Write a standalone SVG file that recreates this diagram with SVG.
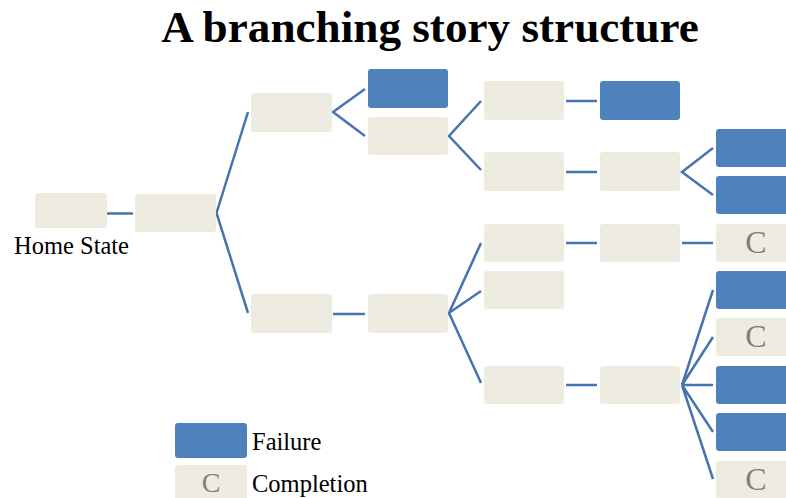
<svg xmlns="http://www.w3.org/2000/svg" width="786" height="498" viewBox="0 0 786 498">
  <style>
    .n { fill: #eeece1; }
    .f { fill: #4f81bd; }
    .c { font-family: "Liberation Serif", serif; font-size: 32px; fill: #7f7f7f; text-anchor: middle; }
    .lbl { font-family: "Liberation Serif", serif; font-size: 24.5px; fill: #000; }
    .title { font-family: "Liberation Serif", serif; font-size: 45.2px; font-weight: bold; fill: #000; text-anchor: middle; }
    #connectors path { fill: none; stroke: #4674b0; stroke-width: 2.5; stroke-linejoin: miter; }
  </style>

  <text class="title" x="430" y="42">A branching story structure</text>

  <g id="connectors">
    <path d="M103 213.5 H133"/>
    <path d="M248 112 L216.5 213 L248 313"/>
    <path d="M365 89 L333 112 L365 136"/>
    <path d="M333 314 H365"/>
    <path d="M481 101 L449 136 L481 170"/>
    <path d="M566 101 H597"/>
    <path d="M566 172 H597"/>
    <path d="M713 148 L682 172 L713 195"/>
    <path d="M481 243 L449 313 L481 291 M449 313 L481 383"/>
    <path d="M566 243 H597"/>
    <path d="M682 243 H713"/>
    <path d="M566 385 H597"/>
    <path d="M713 290 L682 385 L713 337 M682 385 H713 M682 385 L713 432 M682 385 L713 479"/>
  </g>

  <g id="home"><rect class="n" x="35" y="193" width="72" height="35" rx="3"/><text class="lbl" x="14" y="254">Home State</text></g>
  <g id="s1"><rect class="n" x="135" y="194" width="81" height="38" rx="3"/></g>
  <g id="s2a"><rect class="n" x="251" y="93" width="81" height="39" rx="3"/></g>
  <g id="s2b"><rect class="n" x="251" y="294" width="81" height="39" rx="3"/></g>
  <g id="s3a"><rect class="f" x="368" y="69" width="80" height="39" rx="3"/></g>
  <g id="s3b"><rect class="n" x="368" y="117" width="80" height="38" rx="3"/></g>
  <g id="s3c"><rect class="n" x="368" y="294" width="80" height="39" rx="3"/></g>
  <g id="s4a"><rect class="n" x="484" y="81" width="80" height="39" rx="3"/></g>
  <g id="s4b"><rect class="n" x="484" y="152" width="80" height="39" rx="3"/></g>
  <g id="s4c"><rect class="n" x="484" y="224" width="80" height="38" rx="3"/></g>
  <g id="s4d"><rect class="n" x="484" y="271" width="80" height="38" rx="3"/></g>
  <g id="s4e"><rect class="n" x="484" y="366" width="80" height="38" rx="3"/></g>
  <g id="s5a"><rect class="f" x="600" y="81" width="80" height="39" rx="3"/></g>
  <g id="s5b"><rect class="n" x="600" y="152" width="80" height="39" rx="3"/></g>
  <g id="s5c"><rect class="n" x="600" y="224" width="80" height="38" rx="3"/></g>
  <g id="s5e"><rect class="n" x="600" y="366" width="80" height="38" rx="3"/></g>
  <g id="e1"><rect class="f" x="716" y="129" width="80" height="38" rx="3"/></g>
  <g id="e2"><rect class="f" x="716" y="176" width="80" height="38" rx="3"/></g>
  <g id="e3"><rect class="n" x="716" y="224" width="80" height="38" rx="3"/><text class="c" x="756" y="253">C</text></g>
  <g id="e4"><rect class="f" x="716" y="271" width="80" height="38" rx="3"/></g>
  <g id="e5"><rect class="n" x="716" y="318" width="80" height="38" rx="3"/><text class="c" x="756" y="347">C</text></g>
  <g id="e6"><rect class="f" x="716" y="366" width="80" height="38" rx="3"/></g>
  <g id="e7"><rect class="f" x="716" y="413" width="80" height="38" rx="3"/></g>
  <g id="e8"><rect class="n" x="716" y="461" width="80" height="38" rx="3"/><text class="c" x="756" y="490">C</text></g>

  <g id="legend-failure"><rect class="f" x="175" y="423" width="72" height="35" rx="3"/><text class="lbl" x="252" y="450">Failure</text></g>
  <g id="legend-completion"><rect class="n" x="175" y="465" width="72" height="35" rx="3"/><text class="c" x="211" y="492" style="font-size:28px">C</text><text class="lbl" x="252" y="492">Completion</text></g>
</svg>
